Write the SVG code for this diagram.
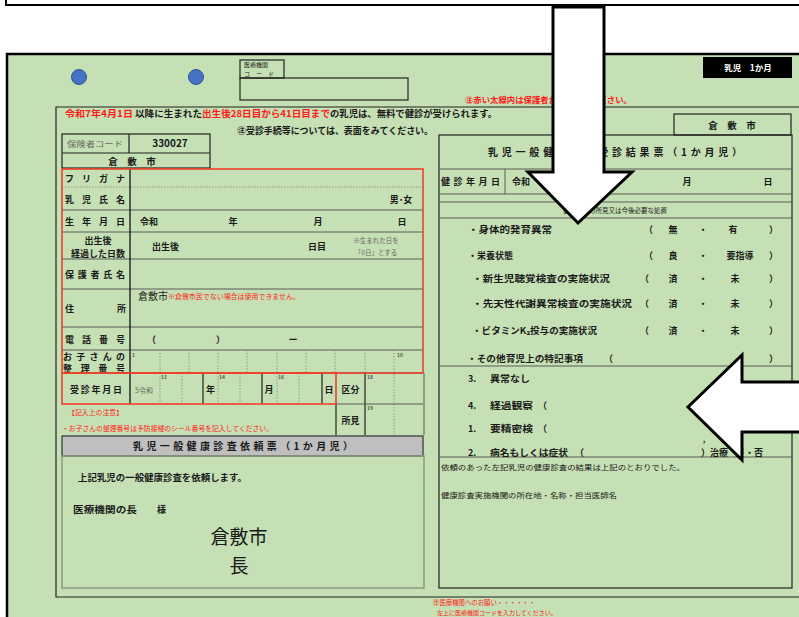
<svg xmlns="http://www.w3.org/2000/svg" width="799" height="617" viewBox="0 0 799 617">
<style>
text{font-family:"Noto Sans CJK JP","Noto Sans",sans-serif;fill:#1a1a1a;font-size:9px}
.r{fill:#ff1a1a}
.b{font-weight:bold}
.s{font-size:7px}
.t{font-size:5px;fill:#555}
.g{fill:#666}
.m{text-anchor:middle}
.lb text{font-weight:bold}
.k{stroke:#222;fill:none;stroke-width:1.2}
.ln{stroke:#5a5a5a;stroke-width:1;fill:none}
.dt{stroke:#888;stroke-width:0.8;stroke-dasharray:1.5 1.5;fill:none}
.red{stroke:#f0402a;stroke-width:1.6;fill:none}
.arrow{fill:#fff;stroke:#000;stroke-width:3;stroke-linejoin:miter}
.dot{fill:#4472c4;stroke:#2f528f;stroke-width:1}
</style>
<rect width="799" height="617" fill="#fff"/>
<path d="M6,0 V5 H810" fill="none" stroke="#000" stroke-width="2"/>
<rect x="7" y="54" width="810" height="600" fill="#c5e0b4" stroke="#000" stroke-width="2.5"/>
<path d="M810,107 H56 V597 H810" class="k"/>

<g id="top-marks">
<circle class="dot" cx="79" cy="77" r="7.5"/>
<circle class="dot" cx="196" cy="77" r="7.5"/>
<rect x="240" y="60" width="44" height="18" class="k"/>
<text x="244" y="67" style="font-size:6px" fill="#444">医療機関</text>
<text x="244" y="76" style="font-size:6px" fill="#444">コ　ー　ド</text>
<rect x="240" y="78" width="168" height="22" class="k" stroke-width="1.5"/>
<rect x="703" y="57" width="89" height="21" fill="#000"/>
<text x="748" y="71" class="m b" style="fill:#fff;font-size:8.5px">乳児　1か月</text>
<text x="465" y="103" class="r b" style="font-size:8.5px" textLength="167" lengthAdjust="spacingAndGlyphs">㊟赤い太線内は保護者が記入してください。</text>
</g>

<g id="header-text">
<text x="65" y="117" class="r b" style="font-size:9.5px" textLength="68" lengthAdjust="spacingAndGlyphs">令和7年4月1日</text>
<text x="135" y="117" class="b" style="font-size:9.5px" textLength="67" lengthAdjust="spacingAndGlyphs">以降に生まれた</text>
<text x="202" y="117" class="r b" style="font-size:9.5px" textLength="128" lengthAdjust="spacingAndGlyphs">出生後28日目から41日目まで</text>
<text x="330" y="117" class="b" style="font-size:9.5px" textLength="167" lengthAdjust="spacingAndGlyphs">の乳児は、無料で健診が受けられます。</text>
<text x="237" y="133.5" class="b" style="font-size:9.5px" textLength="196" lengthAdjust="spacingAndGlyphs">㊟受診手続等については、表面をみてください。</text>
</g>

<g id="insurer">
<rect x="62" y="134" width="148" height="34" class="k" stroke-width="1.5"/>
<path d="M62,153 H210 M129,134 V153" class="k"/>
<text x="67" y="146.5" class="g" style="font-size:7.5px" textLength="56" lengthAdjust="spacingAndGlyphs">保険者コード</text>
<text x="170" y="147" class="m b" style="font-size:10px">330027</text>
<text x="132" y="164.5" class="m b" style="font-size:9.5px">倉　敷　市</text>
</g>

<g id="application" class="lb">
<path d="M62,210 H423 M62,232 H423 M62,259 H423 M62,289 H423 M62,327 H423 M62,350 H423" class="ln"/>
<path d="M62,187 H423" class="dt"/>
<path d="M130,169 V404" stroke="#111" stroke-width="1.3"/>
<text x="65" y="181.5" textLength="60" lengthAdjust="spacing">フリガナ</text>
<text x="65" y="203" textLength="60" lengthAdjust="spacing">乳児氏名</text>
<text x="401" y="203" class="m">男･女</text>
<text x="65" y="225" textLength="60" lengthAdjust="spacing">生年月日</text>
<text x="140" y="225">令和</text>
<text x="233" y="225" class="m">年</text>
<text x="318" y="225" class="m">月</text>
<text x="402" y="225" class="m">日</text>
<text x="98" y="243.5" class="m">出生後</text>
<text x="98" y="256.5" class="m">経過した日数</text>
<text x="152" y="249.5">出生後</text>
<text x="308" y="249.5">日目</text>
<text x="376" y="243" class="m g" style="font-size:6.5px;font-weight:normal">※生まれた日を</text>
<text x="376" y="255" class="m g" style="font-size:6.5px;font-weight:normal">「0日」とする</text>
<text x="65" y="278" textLength="60" lengthAdjust="spacing">保護者氏名</text>
<text x="65" y="312">住</text>
<text x="117" y="312">所</text>
<text x="138" y="300" style="font-size:10px;font-weight:normal">倉敷市</text>
<text x="168" y="299" class="r" style="font-size:6.5px;font-weight:normal" textLength="132" lengthAdjust="spacingAndGlyphs">※倉敷市民でない場合は使用できません。</text>
<text x="65" y="343" textLength="60" lengthAdjust="spacing">電話番号</text>
<text x="147" y="343">（</text>
<text x="216" y="343">）</text>
<text x="293" y="343" class="m">ー</text>
<text x="63" y="360" textLength="62" lengthAdjust="spacing">お子さんの</text>
<text x="63" y="371.5" textLength="62" lengthAdjust="spacing">整理番号</text>
<path d="M160,350 V373 M189,350 V373 M218,350 V373 M247,350 V373 M277,350 V373 M306,350 V373 M335,350 V373 M365,350 V373 M394,350 V435" class="dt"/>
<text x="132" y="357" class="t">1</text>
<text x="397" y="357" class="t">10</text>
<path d="M62,373 H423" class="ln"/>
<text x="70" y="393" textLength="52" lengthAdjust="spacing">受診年月日</text>
<text x="135" y="393" class="g" style="font-size:7px;font-weight:normal">5令和</text>
<path d="M160,373 V404 M182,373 V404 M218,373 V404 M240,373 V404 M277,373 V404 M299,373 V404" class="dt"/>
<path d="M203,373 V404 M262,373 V404 M322,373 V404 M336,404 V435 M365,373 V435" class="k"/>
<text x="161" y="379" class="t">11</text>
<text x="219" y="379" class="t">14</text>
<text x="278" y="379" class="t">16</text>
<text x="210.5" y="393" class="m">年</text>
<text x="269" y="393" class="m">月</text>
<text x="329" y="393" class="m">日</text>
<text x="350.5" y="393" class="m">区分</text>
<text x="367" y="379" class="t">18</text>
<path d="M336,404 H423" class="ln"/>
<text x="350.5" y="424" class="m">所見</text>
<text x="367" y="410" class="t">19</text>
<path d="M424,373 V435" class="ln"/>
<rect x="62" y="169" width="361" height="204" class="red"/>
<rect x="62" y="373" width="274" height="31" class="red"/>
<text x="68" y="415" class="r" style="font-size:6.5px;font-weight:normal" textLength="55" lengthAdjust="spacingAndGlyphs">【記入上の注意】</text>
<text x="62" y="431" class="r" style="font-size:6.5px;font-weight:normal" textLength="211" lengthAdjust="spacingAndGlyphs">・お子さんの整理番号は予防接種のシール番号を記入してください。</text>
</g>

<g id="request">
<rect x="62" y="436" width="361" height="20" fill="#bfbfbf" stroke="#333" stroke-width="1.2"/>
<text x="133" y="450" class="b" style="font-size:10px" textLength="220" lengthAdjust="spacing">乳児一般健康診査依頼票（1か月児）</text>
<rect x="62" y="456" width="362" height="132" fill="none" stroke="#8a9a80" stroke-width="1.5"/>
<text x="78" y="480.5" class="b" textLength="169" lengthAdjust="spacingAndGlyphs">上記乳児の一般健康診査を依頼します。</text>
<text x="73" y="512.5" class="b" textLength="64" lengthAdjust="spacingAndGlyphs">医療機関の長</text>
<text x="157" y="512.5" class="b">様</text>
<text x="239" y="544" class="m" style="font-size:19px">倉敷市</text>
<text x="239" y="573" class="m" style="font-size:19px">長</text>
</g>

<g id="result">
<rect x="674" y="114" width="117" height="21" class="k" stroke-width="1.5"/>
<text x="732" y="128.5" class="m b" style="font-size:9.5px">倉　敷　市</text>
<rect x="439" y="135" width="353" height="453" class="k"/>
<path d="M439,169 H792 M439,194 H792 M439,202 H792 M439,218 H792 M439,366 H792 M439,457 H792" class="ln"/>
<path d="M505,169 V194" class="ln"/>
<text x="488" y="155.5" class="b" style="font-size:10px" textLength="254" lengthAdjust="spacing">乳児一般健康診査受診結果票（1か月児）</text>
<text x="441" y="184.5" class="b" textLength="59" lengthAdjust="spacing">健診年月日</text>
<text x="512" y="184.5" class="b">令和</text>
<text x="687" y="184.5" class="m b">月</text>
<text x="768" y="184.5" class="m b">日</text>
<text x="615" y="213" class="m" style="font-size:6.5px">健康診査の所見又は今後必要な処置</text>
<g class="lb">
<text x="468" y="232.5" textLength="84" lengthAdjust="spacingAndGlyphs">・身体的発育異常</text>
<text x="468" y="258.5" textLength="45" lengthAdjust="spacingAndGlyphs">・栄養状態</text>
<text x="472" y="281.5" textLength="138" lengthAdjust="spacingAndGlyphs">・新生児聴覚検査の実施状況</text>
<text x="472" y="306.5" textLength="160" lengthAdjust="spacingAndGlyphs">・先天性代謝異常検査の実施状況</text>
<text x="472" y="333.5" textLength="125" lengthAdjust="spacingAndGlyphs">・ビタミンK₂投与の実施状況</text>
<text x="467" y="361.5" textLength="116" lengthAdjust="spacingAndGlyphs">・その他育児上の特記事項</text>
<text x="604" y="361.5">（</text>
<text x="769" y="361.5">）</text>
<text x="644" y="232.5">（</text><text x="673" y="232.5" class="m">無</text><text x="703" y="232.5" class="m">・</text><text x="733" y="232.5" class="m">有</text><text x="769" y="232.5">）</text>
<text x="644" y="258.5">（</text><text x="673" y="258.5" class="m">良</text><text x="703" y="258.5" class="m">・</text><text x="740" y="258.5" class="m">要指導</text><text x="769" y="258.5">）</text>
<text x="640" y="281.5">（</text><text x="673" y="281.5" class="m">済</text><text x="703" y="281.5" class="m">・</text><text x="735" y="281.5" class="m">未</text><text x="769" y="281.5">）</text>
<text x="640" y="306.5">（</text><text x="673" y="306.5" class="m">済</text><text x="703" y="306.5" class="m">・</text><text x="735" y="306.5" class="m">未</text><text x="769" y="306.5">）</text>
<text x="640" y="333.5">（</text><text x="673" y="333.5" class="m">済</text><text x="703" y="333.5" class="m">・</text><text x="735" y="333.5" class="m">未</text><text x="769" y="333.5">）</text>
<text x="468" y="381.5">3.</text><text x="490" y="381.5" textLength="40" lengthAdjust="spacingAndGlyphs">異常なし</text>
<text x="468" y="408.5">4.</text><text x="490" y="408.5" textLength="43" lengthAdjust="spacingAndGlyphs">経過観察</text><text x="538" y="408.5">（</text>
<text x="468" y="431.5">1.</text><text x="490" y="431.5" textLength="43" lengthAdjust="spacingAndGlyphs">要精密検</text><text x="538" y="431.5">（</text>
<text x="468" y="455.5">2.</text><text x="490" y="455.5" textLength="78" lengthAdjust="spacingAndGlyphs">病名もしくは症状</text><text x="575" y="455.5">（</text>
<text x="703" y="442" style="font-size:7px">,</text>
<text x="701" y="455.5">）治療</text>
<text x="735" y="455.5">要</text>
<text x="745" y="455.5">・否</text>
</g>
<text x="441" y="470" style="font-size:7px" textLength="244" lengthAdjust="spacingAndGlyphs">依頼のあった左記乳児の健康診査の結果は上記のとおりでした。</text>
<text x="441" y="498" style="font-size:7px" textLength="176" lengthAdjust="spacingAndGlyphs">健康診査実施機関の所在地・名称・担当医師名</text>
</g>

<g id="footer">
<text x="433" y="605" class="r" style="font-size:6.5px" textLength="102" lengthAdjust="spacingAndGlyphs">㊟医療機関へのお願い・・・・・・</text>
<text x="437" y="615" class="r" style="font-size:6px">左上に医療機関コードを入力してください。</text>
</g>

<g id="connectors">
<polygon class="arrow" points="553,7 604,7 604,172 632,172 578,223 528,172 553,172"/>
<polygon class="arrow" points="805,382 742,382 742,355 688,407 742,460 742,432 805,432"/>
</g>
</svg>
